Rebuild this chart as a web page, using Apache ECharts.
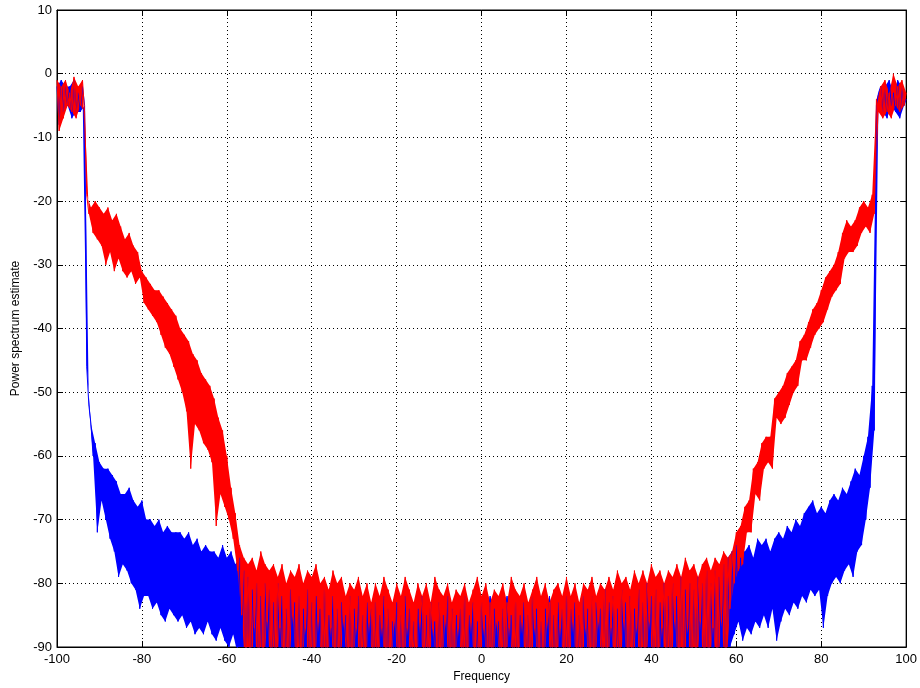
<!DOCTYPE html>
<html>
<head>
<meta charset="utf-8">
<script src="https://cdn.jsdelivr.net/npm/echarts@6/dist/echarts.min.js"></script>
<style>
html,body{margin:0;padding:0;background:#fff;}
#chart{width:920px;height:688px;}
</style>
</head>
<body>
<div id="chart"></div>
<script>
// Samples every 0.5 frequency units from -100 to 100 (401 values each)
const freqStart = -100;
const freqStep = 0.5;

const xTicks = [-100, -80, -60, -40, -20, 0, 20, 40, 60, 80, 100];
const yTicks = [-90, -80, -70, -60, -50, -40, -30, -20, -10, 0, 10];

// Red trace (power spectrum estimate, dB)
const redValues = [
  -1, -9, -2, -7, -1, -5, -3, -6, -0.5, -7,
  -2, -5, -1, -6, -19, -22, -21, -25, -20, -26,
  -21, -27, -22, -30, -21, -28, -23, -31, -22, -29,
  -24, -31, -26, -32, -25, -31, -27, -33, -28, -32,
  -31, -36, -32, -37, -33, -38, -34, -39, -34, -41,
  -35, -43, -36, -44, -37, -46, -38, -48, -40, -50,
  -41, -53, -42, -62, -44, -55, -45, -56, -47, -58,
  -48, -59, -49, -61, -51, -71, -54, -66, -56, -68,
  -60, -70, -65, -73, -69, -78, -74, -85, -76, -95,
  -77, -95, -76, -87, -78, -95, -75, -95, -77, -86,
  -78, -95, -77, -95, -79, -87, -77, -95, -80, -95,
  -78, -85, -79, -95, -77, -95, -80, -87, -78, -95,
  -79, -95, -77, -86, -80, -95, -79, -95, -81, -87,
  -78, -95, -80, -95, -79, -86, -82, -95, -80, -95,
  -81, -87, -79, -95, -82, -95, -80, -86, -83, -95,
  -80, -95, -82, -87, -79, -95, -81, -95, -83, -86,
  -80, -95, -82, -95, -79, -87, -81, -95, -83, -95,
  -80, -86, -82, -95, -80, -95, -83, -87, -79, -95,
  -81, -95, -82, -86, -80, -95, -83, -95, -81, -87,
  -82, -95, -80, -95, -83, -86, -81, -95, -79, -95,
  -82, -87, -80, -95, -83, -95, -81, -86, -82, -95,
  -80, -95, -83, -87, -79, -95, -81, -95, -82, -86,
  -80, -95, -83, -95, -81, -87, -79, -95, -82, -95,
  -80, -86, -83, -95, -81, -95, -80, -87, -82, -95,
  -79, -95, -82, -86, -80, -95, -83, -95, -80, -87,
  -81, -95, -79, -95, -82, -86, -80, -95, -81, -95,
  -79, -87, -81, -95, -78, -95, -80, -86, -79, -95,
  -81, -95, -78, -87, -80, -95, -78, -95, -80, -86,
  -77, -95, -79, -95, -78, -87, -80, -95, -78, -95,
  -79, -86, -77, -95, -79, -95, -76, -87, -78, -95,
  -77, -95, -79, -86, -77, -95, -76, -95, -78, -87,
  -76, -95, -77, -86, -75, -95, -76, -84, -75, -80,
  -72, -78, -71, -77, -68, -72, -67, -72, -62, -66,
  -61, -67, -58, -62, -57, -61, -57, -62, -51, -54,
  -50, -55, -49, -54, -47, -52, -46, -50, -45, -49,
  -42, -45, -41, -45, -39, -43, -37, -41, -36, -40,
  -34, -39, -32, -37, -31, -35, -30, -34, -28, -33,
  -25, -29, -23, -28, -24, -28, -23, -27, -21, -25,
  -20, -24, -21, -25, -19, -22, -4, -6, -2, -7,
  -1, -6, -3, -7, 0, -5, -2, -6, -1, -5,
  -3
];

// Blue trace (power spectrum estimate, dB)
const blueValues = [
  -2, -8, -1, -6, -2, -5, -2, -7, -1, -6,
  -3, -6, -2, -5, -46, -52, -55, -60, -58, -72,
  -61, -67, -62, -70, -62, -73, -63, -75, -64, -79,
  -66, -77, -66, -78, -65, -80, -67, -81, -68, -84,
  -67, -82, -70, -82, -70, -84, -71, -83, -70, -85,
  -72, -86, -71, -84, -72, -85, -72, -86, -72, -85,
  -73, -87, -72, -86, -74, -88, -73, -87, -75, -88,
  -74, -86, -75, -88, -75, -89, -76, -87, -74, -89,
  -76, -90, -75, -88, -77, -91, -76, -90, -78, -93,
  -79, -95, -81, -92, -80, -95, -82, -95, -80, -93,
  -81, -95, -83, -95, -80, -94, -82, -95, -84, -95,
  -81, -95, -83, -93, -82, -95, -84, -95, -81, -95,
  -83, -95, -82, -94, -84, -95, -81, -95, -85, -93,
  -82, -95, -84, -95, -83, -92, -85, -95, -82, -95,
  -84, -95, -82, -93, -85, -95, -83, -95, -84, -94,
  -83, -95, -85, -95, -82, -93, -84, -95, -86, -95,
  -83, -94, -85, -95, -82, -95, -84, -93, -86, -95,
  -84, -95, -82, -95, -85, -94, -83, -95, -86, -95,
  -83, -93, -85, -95, -82, -95, -84, -94, -85, -95,
  -84, -95, -82, -95, -85, -93, -83, -95, -86, -95,
  -83, -95, -85, -94, -82, -95, -84, -95, -86, -93,
  -84, -95, -82, -95, -85, -94, -83, -95, -85, -95,
  -83, -93, -85, -95, -82, -95, -84, -94, -86, -95,
  -84, -95, -82, -95, -85, -93, -83, -95, -84, -95,
  -82, -94, -84, -95, -83, -95, -85, -93, -82, -95,
  -84, -95, -82, -95, -83, -94, -84, -95, -81, -95,
  -83, -93, -82, -95, -84, -95, -81, -94, -83, -95,
  -82, -95, -84, -95, -81, -93, -83, -95, -80, -95,
  -82, -94, -81, -95, -83, -95, -80, -93, -82, -95,
  -80, -95, -82, -95, -79, -94, -81, -95, -80, -95,
  -81, -93, -79, -95, -80, -95, -78, -94, -80, -95,
  -78, -95, -79, -93, -77, -95, -76, -90, -75, -88,
  -74, -86, -76, -89, -75, -87, -74, -88, -76, -86,
  -73, -87, -74, -85, -73, -87, -75, -84, -73, -89,
  -72, -86, -73, -84, -71, -85, -72, -83, -70, -84,
  -71, -82, -69, -83, -68, -81, -67, -82, -69, -81,
  -68, -87, -69, -82, -67, -80, -66, -79, -67, -80,
  -65, -78, -66, -77, -64, -79, -62, -75, -63, -74,
  -60, -70, -57, -65, -49, -56, -5, -3, -2, -6,
  -2, -7, -1, -5, -3, -6, -1, -7, -2, -5,
  -4
];

function toPairs(values) {
  return values.map((v, i) => [freqStart + i * freqStep, v]);
}

// Filled band between consecutive peaks (even samples) and troughs (odd samples),
// positioned through the chart's own axes via api.coord.
function bandSeries(values, color) {
  return {
    type: 'custom', coordinateSystem: 'cartesian2d', xAxisIndex: 0, yAxisIndex: 0,
    clip: true, silent: true,
    data: [[0, -50]],
    renderItem: function (params, api) {
      const top = [], bottom = [];
      values.forEach((v, i) => {
        const p = api.coord([freqStart + i * freqStep, v]);
        if (i % 2 === 0) top.push(p); else bottom.push(p);
      });
      return {
        type: 'polygon',
        shape: { points: top.concat(bottom.reverse()) },
        style: { fill: color, stroke: null }
      };
    }
  };
}

function lineSeries(values, color) {
  return {
    type: 'line', data: toPairs(values), xAxisIndex: 0, yAxisIndex: 0,
    showSymbol: false, symbol: 'none', clip: true, silent: true,
    lineStyle: { color: color, width: 1 }, itemStyle: { color: color }
  };
}

const fontFam = '"Liberation Sans", Arial, Helvetica, sans-serif';
const txt = { color: '#000', fontSize: 13, fontFamily: fontFam };

const chart = echarts.init(document.getElementById('chart'), null, { renderer: 'canvas' });
const option = {
  animation: false,
  backgroundColor: '#ffffff',
  grid: { left: 57, right: 12, top: 10, bottom: 38, show: true, borderColor: '#000', borderWidth: 1, backgroundColor: 'transparent' },
  xAxis: [
    {
      type: 'value', min: xTicks[0], max: xTicks[xTicks.length - 1], interval: 20, position: 'bottom',
      axisLine: { show: true, onZero: false, lineStyle: { color: '#000', width: 1 } },
      axisTick: { show: true, inside: true, length: 6, lineStyle: { color: '#000' } },
      axisLabel: Object.assign({ margin: 6 }, txt),
      splitLine: { show: true, lineStyle: { color: '#000', type: [1, 3], width: 1 } },
      name: 'Frequency', nameLocation: 'middle', nameGap: 24,
      nameTextStyle: Object.assign({}, txt, { fontSize: 12 })
    },
    {
      type: 'value', min: xTicks[0], max: xTicks[xTicks.length - 1], interval: 20, position: 'top',
      axisLine: { show: true, onZero: false, lineStyle: { color: '#000', width: 1 } },
      axisTick: { show: true, inside: true, length: 6, lineStyle: { color: '#000' } },
      axisLabel: { show: false }, splitLine: { show: false }
    }
  ],
  yAxis: [
    {
      type: 'value', min: yTicks[0], max: yTicks[yTicks.length - 1], interval: 10, position: 'left',
      axisLine: { show: true, onZero: false, lineStyle: { color: '#000', width: 1 } },
      axisTick: { show: true, inside: true, length: 6, lineStyle: { color: '#000' } },
      axisLabel: Object.assign({ margin: 5 }, txt),
      splitLine: { show: true, lineStyle: { color: '#000', type: [1, 3], width: 1 } },
      name: 'Power spectrum estimate', nameLocation: 'middle', nameGap: 35,
      nameTextStyle: Object.assign({}, txt, { fontSize: 12 })
    },
    {
      type: 'value', min: yTicks[0], max: yTicks[yTicks.length - 1], interval: 10, position: 'right',
      axisLine: { show: true, onZero: false, lineStyle: { color: '#000', width: 1 } },
      axisTick: { show: true, inside: true, length: 6, lineStyle: { color: '#000' } },
      axisLabel: { show: false }, splitLine: { show: false }
    }
  ],
  series: [
    bandSeries(blueValues, '#0000ff'),
    lineSeries(blueValues, '#0000ff'),
    bandSeries(redValues, '#ff0000'),
    lineSeries(redValues, '#ff0000')
  ]
};
chart.setOption(option);
</script>
</body>
</html>
